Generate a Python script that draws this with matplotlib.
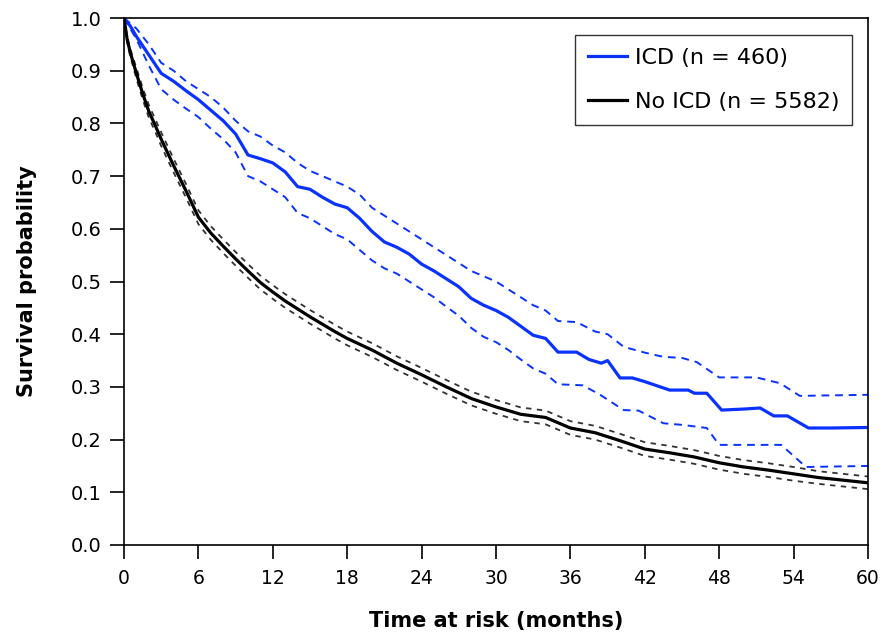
import matplotlib
matplotlib.use('Agg')
import matplotlib.pyplot as plt

# ICD group (n = 460): Kaplan-Meier estimate and 95% CI
icd_t = [0, 0.5, 1, 2, 3, 4, 5, 6, 7, 8, 9, 10, 11, 12, 13, 14, 15, 16, 17, 18,
         19, 20, 21, 22, 23, 24, 25, 26, 27, 28, 29, 30, 31, 32, 33, 34, 35,
         36.5, 37.5, 38.5, 39, 40, 41, 42, 43, 44, 45.5, 46, 47, 48.2, 50,
         51.3, 52.4, 53.5, 55.2, 57, 60]
icd_s = [1.0, 0.985, 0.965, 0.93, 0.895, 0.88, 0.862, 0.845, 0.825, 0.805, 0.78,
         0.74, 0.733, 0.725, 0.708, 0.68, 0.675, 0.66, 0.647, 0.64, 0.62, 0.595,
         0.575, 0.565, 0.552, 0.533, 0.52, 0.505, 0.49, 0.468, 0.455, 0.445,
         0.432, 0.415, 0.398, 0.392, 0.366, 0.366, 0.352, 0.345, 0.35, 0.317,
         0.317, 0.31, 0.302, 0.294, 0.294, 0.288, 0.288, 0.256, 0.258, 0.26,
         0.245, 0.245, 0.222, 0.222, 0.223]

icd_up_t = [0, 1, 2, 3, 4, 5, 6, 7, 8, 9, 10, 11, 12, 13, 14, 15, 16, 17, 18, 19,
            20, 21, 22, 23, 24, 25, 26, 27, 28, 29, 30, 31, 32, 33, 34, 35, 36.5,
            38, 39, 40.3, 42, 43.5, 45, 46.2, 48, 51, 52.9, 54.5, 60]
icd_up = [1.0, 0.98, 0.95, 0.915, 0.9, 0.88, 0.865, 0.85, 0.83, 0.805, 0.785,
          0.775, 0.758, 0.745, 0.725, 0.71, 0.7, 0.69, 0.68, 0.665, 0.64, 0.625,
          0.61, 0.595, 0.58, 0.565, 0.55, 0.535, 0.52, 0.51, 0.5, 0.485, 0.47,
          0.455, 0.445, 0.425, 0.423, 0.405, 0.4, 0.376, 0.365, 0.357, 0.355,
          0.347, 0.318, 0.318, 0.307, 0.283, 0.285]

icd_lo_t = [0, 1, 2, 3, 4, 5, 6, 7, 8, 9, 10, 11, 12, 13, 14, 15, 16, 17, 18, 19,
            20, 21, 22, 23, 24, 25, 26, 27, 28, 29, 30, 31, 32, 33, 34, 35, 37,
            38.4, 40.3, 41.5, 43.5, 45, 47, 48, 53, 55, 60]
icd_lo = [1.0, 0.96, 0.91, 0.865, 0.845, 0.828, 0.812, 0.79, 0.77, 0.745, 0.70,
          0.69, 0.675, 0.66, 0.63, 0.62, 0.605, 0.59, 0.58, 0.56, 0.54, 0.525,
          0.515, 0.5, 0.485, 0.47, 0.452, 0.435, 0.412, 0.395, 0.385, 0.37,
          0.352, 0.335, 0.325, 0.305, 0.303, 0.285, 0.256, 0.255, 0.231, 0.228,
          0.222, 0.19, 0.19, 0.148, 0.15]

# No ICD group (n = 5582)
noicd_t = [0, 0.25, 0.5, 1, 1.5, 2, 2.5, 3, 4, 5, 6, 7, 8, 9, 10, 11, 12, 13, 14,
           15, 16, 17, 18, 20, 22, 24, 26, 28, 30, 32, 33, 34, 36, 38, 40, 42,
           44, 46, 48, 50, 52, 54, 56, 58, 60]
noicd_s = [1.0, 0.96, 0.935, 0.895, 0.857, 0.823, 0.797, 0.77, 0.72, 0.672, 0.622,
           0.592, 0.567, 0.543, 0.52, 0.498, 0.48, 0.463, 0.448, 0.433, 0.419, 0.405,
           0.392, 0.37, 0.345, 0.323, 0.3, 0.278, 0.262, 0.248, 0.245, 0.242,
           0.222, 0.213, 0.198, 0.182, 0.175, 0.167, 0.156, 0.148, 0.142, 0.135,
           0.128, 0.123, 0.118]
noicd_up = [1.0, 0.965, 0.942, 0.905, 0.868, 0.835, 0.809, 0.783, 0.733, 0.685,
            0.635, 0.605, 0.58, 0.556, 0.533, 0.511, 0.493, 0.476, 0.461, 0.446,
            0.432, 0.418, 0.405, 0.383, 0.358, 0.336, 0.313, 0.291, 0.275, 0.261,
            0.258, 0.255, 0.235, 0.226, 0.211, 0.195, 0.188, 0.18, 0.169, 0.161,
            0.155, 0.148, 0.14, 0.135, 0.13]
noicd_lo = [1.0, 0.955, 0.928, 0.885, 0.846, 0.811, 0.785, 0.757, 0.707, 0.659,
            0.609, 0.579, 0.554, 0.53, 0.507, 0.485, 0.467, 0.45, 0.435, 0.42,
            0.406, 0.392, 0.379, 0.357, 0.332, 0.31, 0.287, 0.265, 0.249, 0.235,
            0.232, 0.229, 0.209, 0.2, 0.185, 0.169, 0.162, 0.154, 0.143, 0.135,
            0.129, 0.122, 0.116, 0.111, 0.106]

x_ticks = [0, 6, 12, 18, 24, 30, 36, 42, 48, 54, 60]
y_ticks = [0.0, 0.1, 0.2, 0.3, 0.4, 0.5, 0.6, 0.7, 0.8, 0.9, 1.0]

blue = '#0a32ff'

fig = plt.figure(figsize=(8.84, 6.41), dpi=100)
ax = fig.add_axes([124 / 884, 96 / 641, 744 / 884, 527 / 641])

ax.plot(icd_up_t, icd_up, color=blue, lw=1.4, ls=(0, (4, 3)))
ax.plot(icd_lo_t, icd_lo, color=blue, lw=1.4, ls=(0, (4, 3)))
ax.plot(noicd_t, noicd_up, color='#333333', lw=1.3, ls=(0, (3, 3)))
ax.plot(noicd_t, noicd_lo, color='#333333', lw=1.3, ls=(0, (3, 3)))
ax.plot(icd_t, icd_s, color=blue, lw=2.3, label='ICD (n = 460)')
ax.plot(noicd_t, noicd_s, color='black', lw=2.3, label='No ICD (n = 5582)')

ax.set_xlim(0, 60)
ax.set_ylim(0, 1.0)
ax.set_xticks(x_ticks)
ax.set_xticklabels([str(v) for v in x_ticks])
ax.set_yticks(y_ticks)
ax.set_yticklabels(['%.1f' % v for v in y_ticks])
ax.tick_params(direction='out', length=10, width=1.2, labelsize=14, colors='black')
ax.tick_params(axis='x', pad=7, labelsize=13.5)
ax.tick_params(axis='y', pad=6)
for s in ax.spines.values():
    s.set_linewidth(1.2)

ax.set_xlabel('Time at risk (months)', fontsize=15, fontweight='bold', labelpad=17)
ax.set_ylabel('Survival probability', fontsize=15, fontweight='bold', labelpad=24)

leg = ax.legend(loc='upper right', bbox_to_anchor=(0.979, 0.968), fontsize=16,
                frameon=True, fancybox=False, edgecolor='black', handlelength=1.75,
                borderpad=0.6, labelspacing=1.05, handletextpad=0.35,
                borderaxespad=0)
leg.get_frame().set_linewidth(1.0)

fig.savefig('out.png', dpi=100)
